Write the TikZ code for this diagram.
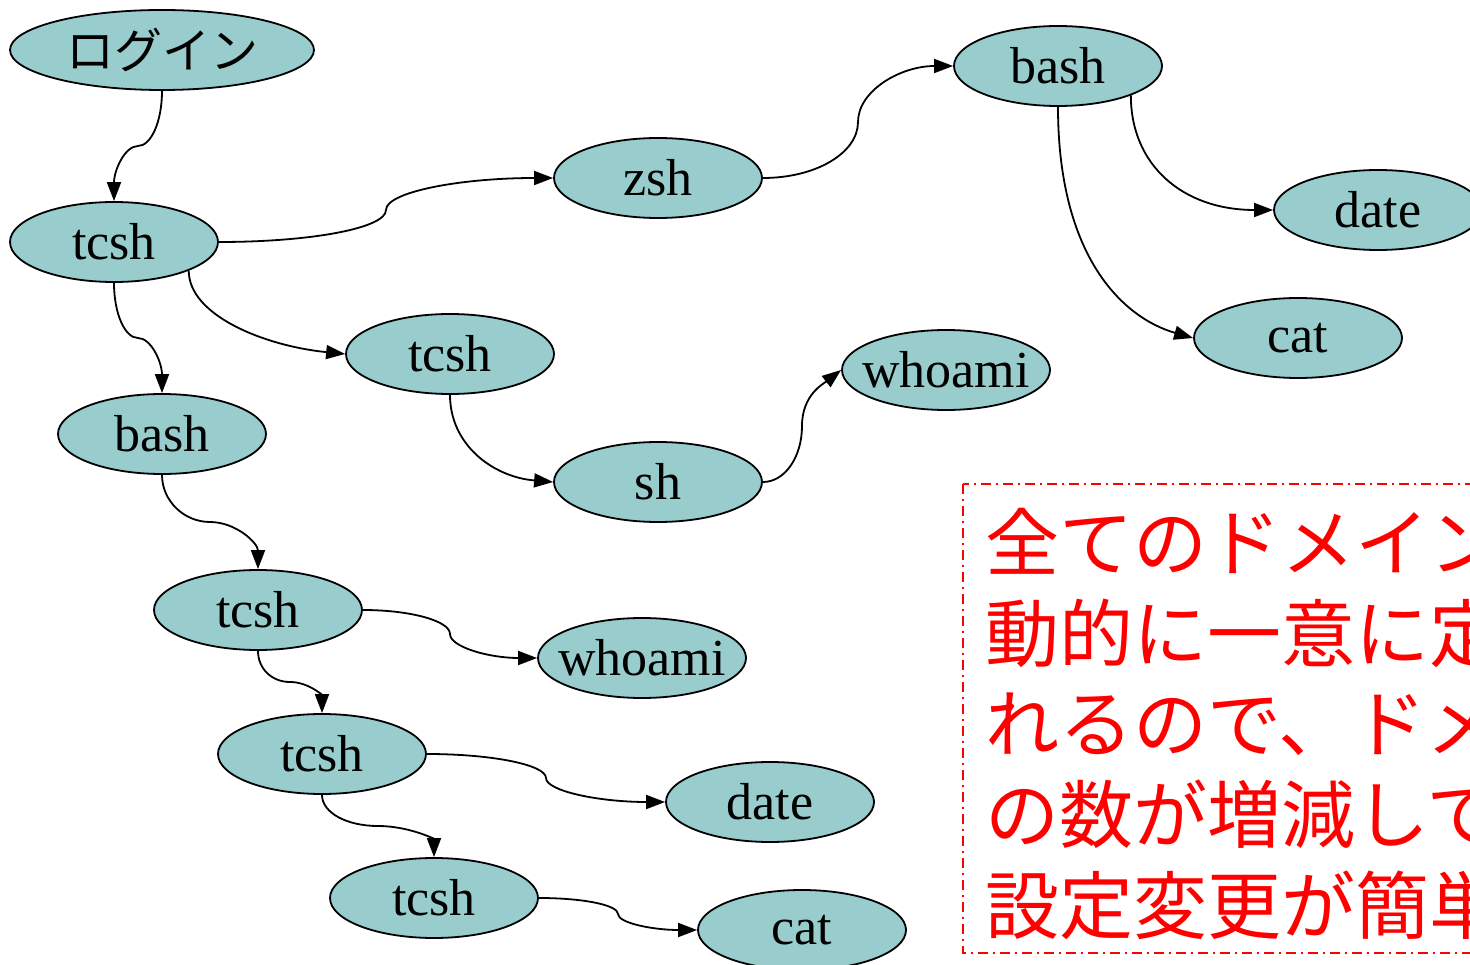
\documentclass[tikz,border=0pt]{standalone}
\usepackage{fontspec}
\setmainfont{Liberation Serif}
\newfontfamily\jpfont{Noto Sans CJK JP}
\usetikzlibrary{shapes.geometric,arrows.meta,calc}
\definecolor{nodefill}{HTML}{99CCCC}
\begin{document}
\begin{tikzpicture}[x=1pt,y=-1pt,
  proc/.style={ellipse, draw, line width=1.8pt, fill=nodefill, minimum width=208pt,
    minimum height=80pt, inner sep=0pt, font=\fontsize{52}{60}\selectfont},
  edge/.style={line width=1.8pt, -{Triangle[length=19pt,width=14pt]}},
  note/.style={anchor=base west, inner sep=0pt, text=red, font=\jpfont\fontsize{74}{90}\selectfont}
  ]
\useasboundingbox (0,0) rectangle (1470,965);
\clip (0,0) rectangle (1470,965);

% nodes
\node[proc, minimum width=304pt, font=\jpfont\fontsize{48}{56}\selectfont] (login) at (162,50) {ログイン};
\node[proc] (t1) at (114,242) {tcsh};
\node[proc] (zsh) at (658,178) {zsh};
\node[proc] (bashT) at (1058,66) {bash};
\node[proc] (dateT) at (1378,210) {date};
\node[proc] (catT) at (1298,338) {cat};
\node[proc] (t2) at (450,354) {tcsh};
\node[proc] (w1) at (946,370) {\makebox[140pt][c]{whoami}};
\node[proc] (sh) at (658,482) {sh};
\node[proc] (bash2) at (162,434) {bash};
\node[proc] (t3) at (258,610) {tcsh};
\node[proc] (w2) at (642,658) {\makebox[140pt][c]{whoami}};
\node[proc] (t4) at (322,754) {tcsh};
\node[proc] (dateB) at (770,802) {date};
\node[proc] (t5) at (434,898) {tcsh};
\node[proc] (catB) at (802,930) {cat};

% vertical kinked edges
\draw[edge] (login.south) .. controls +(0,31) and +(13,0) .. ($(login.south)!.5!(t1.north)$)
  .. controls +(-13,0) and +(0,-31) .. (t1.north);
\draw[edge] (t1.south) .. controls +(0,31) and +(-13,0) .. ($(t1.south)!.5!(bash2.north)$)
  .. controls +(13,0) and +(0,-31) .. (bash2.north);
\draw[edge] (bash2.south) .. controls +(0,26) and +(-26,0) .. ($(bash2.south)!.5!(t3.north)$)
  .. controls +(26,0) and +(0,-26) .. (t3.north);
\draw[edge] (t3.south) .. controls +(0,18) and +(-18,0) .. ($(t3.south)!.5!(t4.north)$)
  .. controls +(18,0) and +(0,-18) .. (t4.north);
\draw[edge] (t4.south) .. controls +(0,18) and +(-31,0) .. ($(t4.south)!.5!(t5.north)$)
  .. controls +(31,0) and +(0,-18) .. (t5.north);

% horizontal kinked edges
\draw[edge] (t1.east) .. controls +(93,0) and +(0,18) .. ($(t1.east)!.5!(zsh.west)$)
  .. controls +(0,-18) and +(-93,0) .. (zsh.west);
\draw[edge] (zsh.east) .. controls +(53,0) and +(0,31) .. ($(zsh.east)!.5!(bashT.west)$)
  .. controls +(0,-31) and +(-53,0) .. (bashT.west);
\draw[edge] (sh.east) .. controls +(22,0) and +(0,31) .. ($(sh.east)!.5!(w1.west)$)
  .. controls +(0,-31) and +(-18,14) .. (w1.west);
\draw[edge] (t3.east) .. controls +(48,0) and +(0,-13) .. ($(t3.east)!.5!(w2.west)$)
  .. controls +(0,13) and +(-48,0) .. (w2.west);
\draw[edge] (t4.east) .. controls +(66,0) and +(0,-13) .. ($(t4.east)!.5!(dateB.west)$)
  .. controls +(0,13) and +(-66,0) .. (dateB.west);
\draw[edge] (t5.east) .. controls +(44,0) and +(0,-9) .. ($(t5.east)!.5!(catB.west)$)
  .. controls +(0,9) and +(-44,0) .. (catB.west);

% single curves
\draw[edge] (bashT.-22) .. controls +(0,70) and +(-90,0) .. (dateT.west);
\draw[edge] (bashT.south) .. controls +(0,150) and +(-70,-20) .. (catT.west);
\draw[edge] (t1.-21) .. controls +(0,45) and +(-80,-8) .. (t2.west);
\draw[edge] (t2.south) .. controls +(0,50) and +(-60,-5) .. (sh.west);

% note box
\draw[red, line width=1.8pt, dash pattern=on 10pt off 5pt on 2pt off 5pt]
  (963,484) rectangle (1520,953);
\node[note] (l1) at (985,570) {全てのドメイン};
\node[note] (l2) at (985,661) {動的に一意に定};
\node[note] (l3) at (985,751) {れるので、ドメ};
\node[note] (l4) at (985,842) {の数が増減して};
\node[note] (l5) at (985,933) {設定変更が簡単};
\end{tikzpicture}
\end{document}
